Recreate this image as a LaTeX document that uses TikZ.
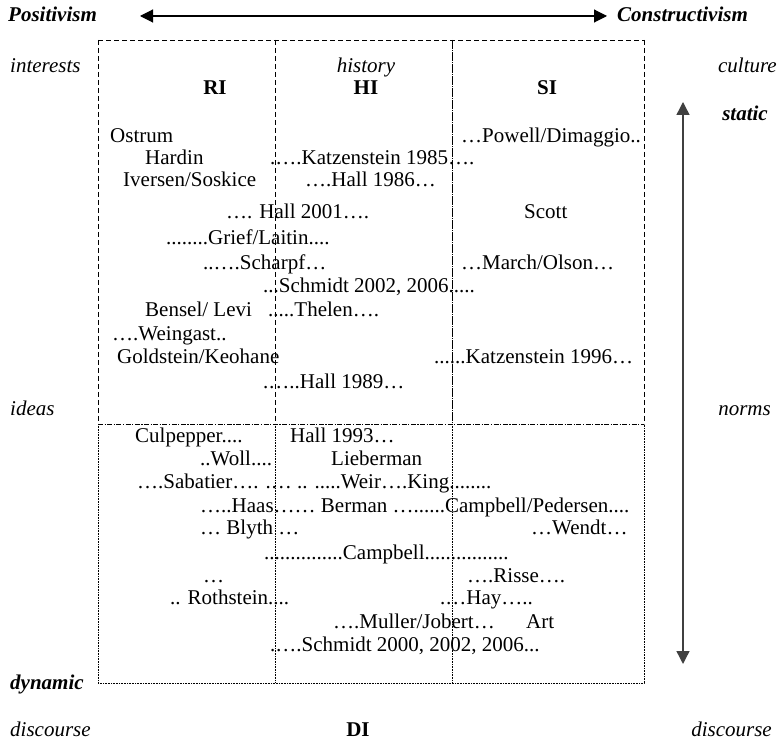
\documentclass[tikz,border=0pt]{standalone}
\usepackage{fontspec}
\setmainfont{Liberation Serif}
\usetikzlibrary{arrows.meta}
\begin{document}
\begin{tikzpicture}[x=1pt,y=-1pt,
  txt/.style={inner sep=0pt,anchor=base,font=\fontsize{21}{24}\selectfont},
  lbl/.style={txt,font=\fontsize{21}{24}\selectfont\itshape},
  blbl/.style={txt,font=\fontsize{21}{24}\selectfont\bfseries\itshape},
  hdr/.style={txt,font=\fontsize{21}{24}\selectfont\bfseries},
  updash/.style={line width=0.8pt,dash pattern=on 5pt off 3pt},
  sidash/.style={line width=0.8pt,dash pattern=on 9pt off 1pt on 1pt off 1pt},
  middash/.style={line width=0.8pt,dash pattern=on 5pt off 1.5pt on 1.2pt off 1.5pt},
  lowdot/.style={line width=0.6pt,dash pattern=on 0.8pt off 0.8pt},
  bigarrow/.style={line width=1.1pt,{Triangle[length=13pt,width=13pt]}-{Triangle[length=13pt,width=13pt]}}
]
\useasboundingbox (0,0) rectangle (780,743);
% frame coordinates
\coordinate (TL) at (98,40);
\coordinate (TA) at (275,40);
\coordinate (TB) at (452,40);
\coordinate (TR) at (644,40);
\coordinate (ML) at (98,424);
\coordinate (MA) at (275,424);
\coordinate (MB) at (452,424);
\coordinate (MR) at (644,424);
\coordinate (BL) at (98,683);
\coordinate (BA) at (275,683);
\coordinate (BB) at (452,683);
\coordinate (BR) at (644,683);
\draw[updash] (TL) -- (TR);
\draw[updash] (TL) -- (ML);
\draw[updash] (TA) -- (MA);
\draw[sidash] (TB) -- (MB);
\draw[updash] (TR) -- (MR);
\draw[middash] (ML) -- (MR);
\draw[lowdot] (ML) -- (BL) -- (BR) -- (MR);
\draw[lowdot] (MA) -- (BA);
\draw[lowdot] (MB) -- (BB);
% top arrow
\node[blbl,anchor=base west] (pos) at (8,22) {Positivism};
\node[blbl,anchor=base west] (con) at (617,22) {Constructivism};
\coordinate (pa) at (140,16);
\coordinate (pb) at (607,16);
\draw[bigarrow] (pa) -- (pb);
% right arrow
\coordinate (ra) at (683,102);
\coordinate (rb) at (683,664);
\draw[line width=1.4pt,draw=black!75,{Triangle[length=13pt,width=13pt]}-{Triangle[length=13pt,width=13pt]}] (ra) -- (rb);
% side labels
\node[lbl,anchor=base west] (int) at (10,73) {interests};
\node[lbl] (his) at (366,73) {history};
\node[lbl,anchor=base east] (cul) at (777,73) {culture};
\node[hdr] (ri) at (215,95) {RI};
\node[hdr] (hi) at (366,95) {HI};
\node[hdr] (si) at (547,95) {SI};
\node[blbl] (sta) at (745,121) {static};
\node[lbl,anchor=base west] (ide) at (10,416) {ideas};
\node[lbl,anchor=base east] (nor) at (771,416) {norms};
\node[blbl,anchor=base west] (dyn) at (10,689) {dynamic};
\node[lbl,anchor=base west] (dl) at (10,736) {discourse};
\node[hdr] (di) at (358,736) {DI};
\node[lbl,anchor=base east] (dr) at (772,736) {discourse};
% upper entries
\node[txt,anchor=base west] (a1) at (110,143) {Ostrum};
\node[txt,anchor=base west] (a2) at (461,143) {…Powell/Dimaggio..};
\node[txt,anchor=base west] (a3) at (145,165) {Hardin};
\node[txt,anchor=base west] (a4) at (270,165) {.….Katzenstein 1985….};
\node[txt,anchor=base west] (a5) at (123,187) {Iversen/Soskice};
\node[txt,anchor=base west] (a6) at (305,187) {….Hall 1986…};
\node[txt,anchor=base west] (a7) at (226,219) {…. Hall 2001….};
\node[txt,anchor=base west] (a8) at (524,219) {Scott};
\node[txt,anchor=base west] (a9) at (166,245) {........Grief/Laitin....};
\node[txt,anchor=base west] (a10) at (203,270) {..….Scharpf…};
\node[txt,anchor=base west] (a11) at (461,270) {…March/Olson…};
\node[txt,anchor=base west] (a12) at (263,293) {...Schmidt 2002, 2006.....};
\node[txt,anchor=base west] (a13) at (145,317) {Bensel/ Levi};
\node[txt,anchor=base west] (a14) at (268,317) {.....Thelen….};
\node[txt,anchor=base west] (a15) at (112,341) {….Weingast..};
\node[txt,anchor=base west] (a16) at (117,364) {Goldstein/Keohane};
\node[txt,anchor=base west] (a17) at (434,364) {......Katzenstein 1996…};
\node[txt,anchor=base west] (a18) at (263,389) {.…..Hall 1989…};
% lower entries
\node[txt,anchor=base west] (b1) at (135,443) {Culpepper....};
\node[txt,anchor=base west] (b2) at (290,443) {Hall 1993…};
\node[txt,anchor=base west] (b3) at (200,466) {..Woll....};
\node[txt,anchor=base west] (b4) at (331,466) {Lieberman};
\node[txt,anchor=base west] (b5) at (137,489) {….Sabatier…. .… .. .....Weir….King........};
\node[txt,anchor=base west] (b6) at (200,512) {…..Haas…… Berman …......Campbell/Pedersen....};
\node[txt,anchor=base west] (b7) at (200,535) {… Blyth …};
\node[txt,anchor=base west] (b8) at (531,535) {…Wendt…};
\node[txt,anchor=base west] (b9) at (264,559) {...............Campbell................};
\node[txt,anchor=base west] (b10) at (203,582) {…};
\node[txt,anchor=base west] (b11) at (467,582) {….Risse….};
\node[txt,anchor=base west] (b12) at (170,604) {.. Rothstein....};
\node[txt,anchor=base west] (b13) at (440,604) {.…Hay…..};
\node[txt,anchor=base west] (b14) at (333,628) {….Muller/Jobert…};
\node[txt,anchor=base west] (b15) at (526,628) {Art};
\node[txt,anchor=base west] (b16) at (270,651) {.….Schmidt 2000, 2002, 2006...};
\end{tikzpicture}
\end{document}
